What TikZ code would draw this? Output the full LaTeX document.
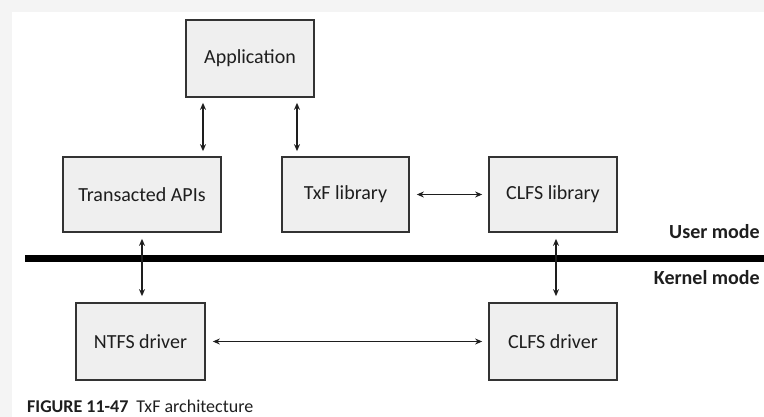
\documentclass[tikz,border=0pt]{standalone}
\usepackage{fontspec}
\setmainfont{Carlito}
\usetikzlibrary{arrows.meta}
\definecolor{bgstrip}{HTML}{F4F4F4}
\definecolor{boxfill}{HTML}{EFEFEF}
\definecolor{boxline}{HTML}{333333}
\definecolor{txt}{HTML}{1E1E1E}
\begin{document}
\begin{tikzpicture}[x=1pt,y=-1pt,
  box/.style={draw=boxline, fill=boxfill, line width=1.7pt, inner sep=0pt,
    text=txt, font=\fontsize{20}{23}\selectfont},
  dbl/.style={{Stealth[length=7pt,width=6pt]}-{Stealth[length=7pt,width=6pt]},
    line width=1.2pt, draw=txt},
  modelabel/.style={anchor=east, inner sep=0pt, text=txt, font=\fontsize{20}{23}\selectfont\bfseries},
  caption/.style={anchor=base west, inner sep=0pt, text=txt, font=\fontsize{18}{21}\selectfont}
]
\useasboundingbox (0,0) rectangle (764,417);
\fill[bgstrip] (0,0) rectangle (764,417);
\fill[white] (12,12) rectangle (764,417);

\node[box, minimum width=128pt, minimum height=77pt] (app) at (250,58.5) {Application};
\node[box, minimum width=158pt, minimum height=75pt] (tapi) at (142,194.5) {Transacted APIs};
\node[box, minimum width=127pt, minimum height=75pt] (txf) at (345.5,194.5) {TxF library};
\node[box, minimum width=128pt, minimum height=75pt] (clfsl) at (553,194.5) {CLFS library};
\node[box, minimum width=129pt, minimum height=77pt] (ntfs) at (140.5,341.5) {NTFS driver};
\node[box, minimum width=128pt, minimum height=77pt] (clfsd) at (553,341.5) {CLFS driver};

\coordinate (barL) at (25,258.5);
\coordinate (barR) at (764,258.5);
\draw[line width=7pt, draw=black] (barL) -- (barR);

\node[modelabel] (user) at (760,232) {User mode};
\node[modelabel] (kernel) at (760,277.5) {Kernel mode};

\draw[dbl, shorten <=5pt, shorten >=5pt] (app.south -| 203,0) -- (tapi.north -| 203,0);
\draw[dbl, shorten <=5pt, shorten >=5pt] (app.south -| 297,0) -- (txf.north -| 297,0);
\draw[dbl, shorten <=7pt, shorten >=6pt] (txf.east) -- (clfsl.west);
\draw[dbl, shorten <=6pt, shorten >=6pt] (tapi.south -| 142,0) -- (ntfs.north -| 142,0);
\draw[dbl, shorten <=6pt, shorten >=6pt] (clfsl.south -| 556,0) -- (clfsd.north -| 556,0);
\draw[dbl, shorten <=7pt, shorten >=6pt] (ntfs.east) -- (clfsd.west);

\node[caption] (cap) at (27,412) {{\bfseries FIGURE 11-47}\hspace{8pt}TxF architecture};
\end{tikzpicture}
\end{document}
